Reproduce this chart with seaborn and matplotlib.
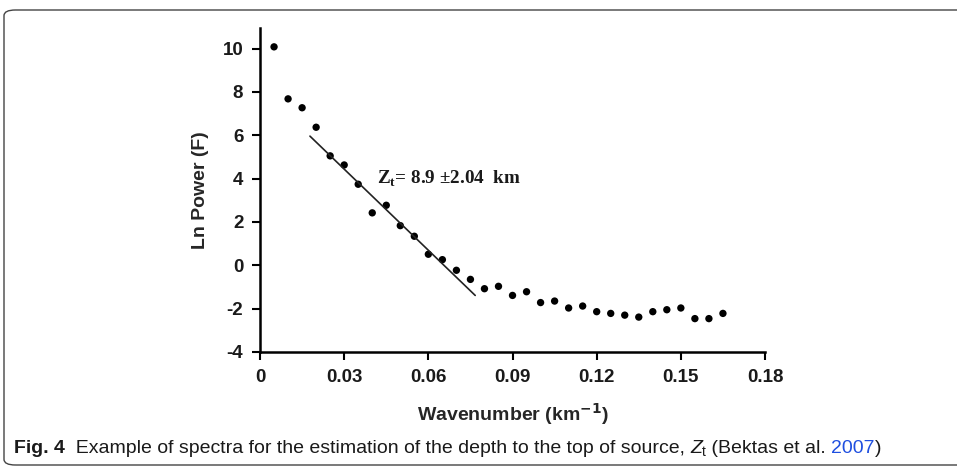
import matplotlib
matplotlib.use("Agg")
import matplotlib.pyplot as plt
from matplotlib.patches import FancyBboxPatch
import seaborn as sns
import pandas as pd

# wavenumber (km^-1) and ln power
wavenumber = [0.005, 0.010, 0.015, 0.020, 0.025, 0.030, 0.035, 0.040, 0.045, 0.050,
              0.055, 0.060, 0.065, 0.070, 0.075, 0.080, 0.085, 0.090, 0.095, 0.100,
              0.105, 0.110, 0.115, 0.120, 0.125, 0.130, 0.135, 0.140, 0.145, 0.150,
              0.155, 0.160, 0.165]
ln_power = [10.08, 7.68, 7.27, 6.37, 5.05, 4.63, 3.74, 2.42, 2.77, 1.83,
            1.34, 0.51, 0.26, -0.23, -0.65, -1.08, -0.97, -1.39, -1.22, -1.72,
            -1.65, -1.97, -1.88, -2.14, -2.22, -2.30, -2.39, -2.14, -2.05, -1.97,
            -2.46, -2.46, -2.22]

# fitted line segment
fit_x = [0.0178, 0.0767]
fit_y = [5.96, -1.39]

x_ticks = [0, 0.03, 0.06, 0.09, 0.12, 0.15, 0.18]
x_ticklabels = ["0", "0.03", "0.06", "0.09", "0.12", "0.15", "0.18"]
y_ticks = [-4, -2, 0, 2, 4, 6, 8, 10]

sns.set_style("ticks")
plt.rcParams['font.family'] = ['Liberation Sans', 'DejaVu Sans']
plt.rcParams['axes.unicode_minus'] = False

df = pd.DataFrame({"k": wavenumber, "lnp": ln_power})
fit = pd.DataFrame({"k": fit_x, "lnp": fit_y})

fig = plt.figure(figsize=(9.57, 4.69), dpi=100)
ax = fig.add_axes([0.2717, 0.2495, 0.5277, 0.6908])

sns.scatterplot(data=df, x="k", y="lnp", color="black", s=28, edgecolor="none", ax=ax)
sns.lineplot(data=fit, x="k", y="lnp", color="#222222", linewidth=1.2, ax=ax)

ax.set_xlim(0, 0.18)
ax.set_ylim(-4, 10.95)
ax.set_xticks(x_ticks)
ax.set_xticklabels(x_ticklabels)
ax.set_yticks(y_ticks)
for lab in ax.get_xticklabels() + ax.get_yticklabels():
    lab.set_fontweight("bold")
    lab.set_fontsize(13.5)
    lab.set_color("#1a1a1a")
ax.tick_params(axis="both", direction="out", length=6, width=1.5, color="black", pad=6)

sns.despine(ax=ax)
for side in ["left", "bottom"]:
    ax.spines[side].set_linewidth(1.8)
    ax.spines[side].set_color("black")

ax.set_xlabel("Wavenumber (km$^{\\mathbf{-1}}$)", fontsize=14, fontweight="bold", labelpad=11)
ax.set_ylabel("Ln Power (F)", fontsize=14, fontweight="bold", labelpad=10)

ax.text(0.0417, 4.0, "Z$_\\mathregular{t}$= 8.9 \u00b12.04  km", fontsize=13.8, fontweight="bold",
        family="Liberation Serif", va="center", ha="left", color="#1a1a1a")

# rounded frame around the figure
frame = FancyBboxPatch((4 / 957, 4 / 469), 1.2, (459 - 4) / 469,
                       boxstyle="round,pad=0,rounding_size=0.012",
                       transform=fig.transFigure, fill=False,
                       edgecolor="#444444", linewidth=1.0, clip_on=False)
fig.patches.append(frame)

# caption built from pieces
pieces = [
    ("Fig. 4", dict(fontweight="bold"), 0),
    ("  Example of spectra for the estimation of the depth to the top of source, ", {}, 0),
    ("Z", dict(style="italic"), 0),
    ("t", dict(fontsize=10), -3),
    (" (Bektas et al. ", {}, 0),
    ("2007", dict(color="#1f4fe0"), 0),
    (")", {}, 0),
]
fig.canvas.draw()
renderer = fig.canvas.get_renderer()
x_px = 14
for txt, kw, dy in pieces:
    props = dict(fontsize=14, family=["Liberation Sans Narrow", "Liberation Sans"], color="#1a1a1a")
    props.update(kw)
    t = fig.text(x_px / 957, (16 + dy) / 469, txt, va="baseline", ha="left", **props)
    bb = t.get_window_extent(renderer)
    x_px += bb.width

fig.savefig("out.png", dpi=100)
